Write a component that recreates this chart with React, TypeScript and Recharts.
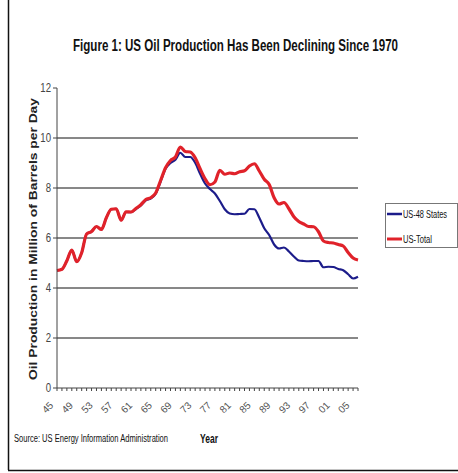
import { LineChart, Line, XAxis, YAxis, CartesianGrid } from "recharts";

const years = [
  1945, 1946, 1947, 1948, 1949, 1950, 1951, 1952, 1953, 1954, 1955, 1956, 1957, 1958, 1959, 1960,
  1961, 1962, 1963, 1964, 1965, 1966, 1967, 1968, 1969, 1970, 1971, 1972, 1973, 1974, 1975, 1976,
  1977, 1978, 1979, 1980, 1981, 1982, 1983, 1984, 1985, 1986, 1987, 1988, 1989, 1990, 1991, 1992,
  1993, 1994, 1995, 1996, 1997, 1998, 1999, 2000, 2001, 2002, 2003, 2004, 2005, 2006,
];

// million barrels per day
const usTotal = [
  4.7, 4.75, 5.09, 5.52, 5.05, 5.41, 6.16, 6.26, 6.46, 6.34, 6.81, 7.15, 7.17, 6.71, 7.05, 7.04,
  7.18, 7.33, 7.54, 7.61, 7.8, 8.3, 8.81, 9.1, 9.24, 9.64, 9.46, 9.44, 9.21, 8.77, 8.37, 8.13,
  8.24, 8.71, 8.55, 8.6, 8.57, 8.65, 8.69, 8.88, 8.97, 8.68, 8.35, 8.14, 7.61, 7.36, 7.42, 7.17,
  6.85, 6.66, 6.56, 6.46, 6.45, 6.25, 5.88, 5.82, 5.8, 5.74, 5.68, 5.42, 5.2, 5.12,
];

const us48 = [
  4.7, 4.75, 5.09, 5.52, 5.05, 5.41, 6.16, 6.26, 6.46, 6.34, 6.81, 7.15, 7.17, 6.71, 7.04, 7.03,
  7.16, 7.3, 7.51, 7.58, 7.77, 8.26, 8.77, 9.0, 9.13, 9.41, 9.24, 9.24, 9.01, 8.57, 8.18, 7.96,
  7.78, 7.48, 7.15, 6.98, 6.95, 6.96, 6.97, 7.16, 7.15, 6.81, 6.39, 6.12, 5.74, 5.58, 5.62, 5.46,
  5.26, 5.1, 5.08, 5.07, 5.08, 5.08, 4.83, 4.85, 4.84, 4.76, 4.71, 4.55, 4.38, 4.45,
];

const yTicks = [0, 2, 4, 6, 8, 10, 12];
const gridLines = [2, 4, 6, 8, 10];

const data = years.map((y, i) => ({ year: y, us48: us48[i], total: usTotal[i] }));

const font = '"Liberation Sans", Arial, sans-serif';
const blue = "#1c1c8a";
const red = "#e0222a";

const YearTick = (props: any) => {
  const { x, y, payload } = props;
  const yr = payload.value as number;
  if ((yr - 1945) % 4 !== 0) return null;
  const label = String(yr).slice(2);
  return (
    <g transform={`translate(${x - 3},${y + 13})`}>
      <text textAnchor="end" transform="rotate(-45)" fontSize={10} fontFamily={font} fill="#555">
        {label}
      </text>
    </g>
  );
};

const ValueTick = (props: any) => {
  const { x, y, payload } = props;
  return (
    <text
      x={x}
      y={y + 4}
      textAnchor="end"
      fontSize={12}
      fontFamily={font}
      fill="#444"
      transform={`translate(${x * 0.2},0) scale(0.8,1)`}
    >
      {payload.value}
    </text>
  );
};

export default function App() {
  return (
    <div style={{ position: "absolute", left: 0, top: 0, width: 458, height: 473, background: "#fff" }}>
      <LineChart
        width={458}
        height={473}
        data={data}
        margin={{ top: 88, right: 100, bottom: 0, left: 17 }}
        style={{ position: "absolute", left: 0, top: 0 }}
      >
        <CartesianGrid vertical={false} horizontalValues={gridLines} stroke="#111" strokeWidth={1} />
        <XAxis
          dataKey="year"
          interval={0}
          axisLine={{ stroke: "#444" }}
          tickLine={{ stroke: "#444" }}
          tickSize={3}
          tick={<YearTick />}
          height={85}
        />
        <YAxis
          domain={[0, 12]}
          ticks={yTicks}
          width={40}
          axisLine={{ stroke: "#444" }}
          tickLine={{ stroke: "#444" }}
          tickSize={4}
          tick={<ValueTick />}
        />
        <Line type="monotone" dataKey="us48" stroke={blue} strokeWidth={2.2} dot={false} isAnimationActive={false} />
        <Line type="monotone" dataKey="total" stroke={red} strokeWidth={3.2} dot={false} isAnimationActive={false} />
      </LineChart>
      <svg width={458} height={473} style={{ position: "absolute", left: 0, top: 0, pointerEvents: "none" }}>
        <line x1={8.5} y1={0} x2={8.5} y2={470} stroke="#111" strokeWidth={1.5} />
        <line x1={8} y1={470.5} x2={458} y2={470.5} stroke="#111" strokeWidth={1.5} />
        <text
          x={73}
          y={51}
          fontSize={16}
          fontWeight="bold"
          fontFamily={font}
          fill="#111"
          textLength={325}
          lengthAdjust="spacingAndGlyphs"
        >
          Figure 1: US Oil Production Has Been Declining Since 1970
        </text>
        <text
          transform="translate(37,380) rotate(-90)"
          fontSize={11}
          fontWeight="bold"
          fontFamily={font}
          fill="#222"
          textLength={282}
          lengthAdjust="spacingAndGlyphs"
        >
          Oil Production in Million of Barrels per Day
        </text>
        <rect x={385.5} y={203.5} width={72} height={44} fill="#fff" stroke="#777" />
        <line x1={387} y1={214} x2={402} y2={214} stroke={blue} strokeWidth={2.5} />
        <line x1={387} y1={239} x2={402} y2={239} stroke={red} strokeWidth={3} />
        <text x={403} y={218} fontSize={11} fontFamily={font} fill="#111" textLength={44} lengthAdjust="spacingAndGlyphs">
          US-48 States
        </text>
        <text x={403} y={243} fontSize={11} fontFamily={font} fill="#111" textLength={29} lengthAdjust="spacingAndGlyphs">
          US-Total
        </text>
        <text x={14} y={442} fontSize={10} fontFamily={font} fill="#111" textLength={154} lengthAdjust="spacingAndGlyphs">
          Source: US Energy Information Administration
        </text>
        <text x={200} y={443} fontSize={12} fontWeight="bold" fontFamily={font} fill="#111" textLength={18} lengthAdjust="spacingAndGlyphs">
          Year
        </text>
      </svg>
    </div>
  );
}
